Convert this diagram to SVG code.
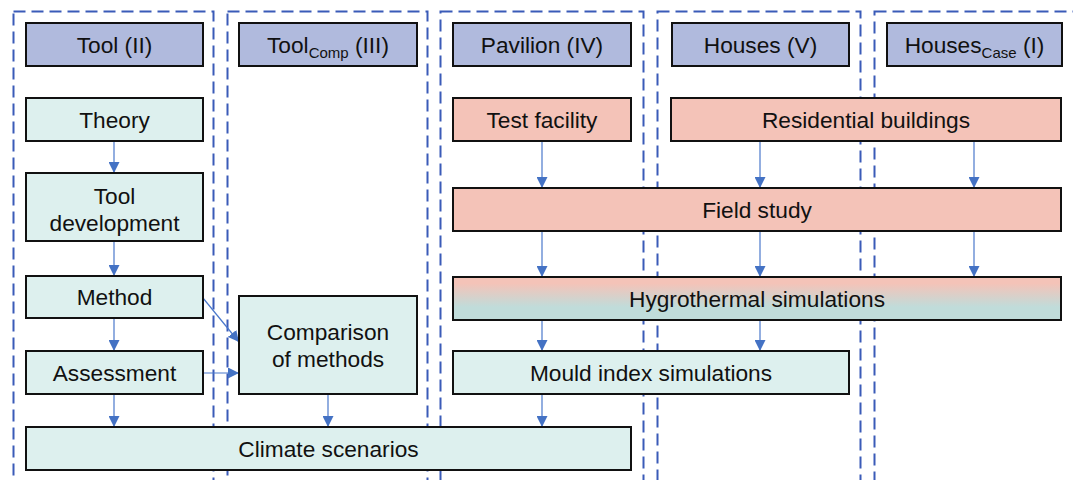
<svg xmlns="http://www.w3.org/2000/svg" width="1073" height="480" viewBox="0 0 1073 480">
<style>
.col{fill:none;stroke:#3A5BB8;stroke-width:2;stroke-dasharray:12 6}
.hdr{fill:#B0BADD;stroke:#111;stroke-width:2}
.tl{fill:#DDF0EE;stroke:#111;stroke-width:2}
.pk{fill:#F4C3B8;stroke:#111;stroke-width:2}
.gr{fill:url(#hg);stroke:#111;stroke-width:2}
text{font-family:"Liberation Sans",Arial,sans-serif;font-size:22.7px;fill:#111;text-anchor:middle}
.sub{font-size:15px}
.cn{stroke:#4A78CC;stroke-width:1.2;fill:none;marker-end:url(#ah)}
</style>
<defs>
<marker id="ah" viewBox="0 0 10 10" refX="10" refY="5" markerWidth="11" markerHeight="11" markerUnits="userSpaceOnUse" orient="auto">
<path d="M0,0 L10,5 L0,10 Z" fill="#4472C4"/>
</marker>
<linearGradient id="hg" x1="0" y1="0" x2="0" y2="1">
<stop offset="0.15" stop-color="#F4C3B8"/>
<stop offset="0.7" stop-color="#C0DCDA"/>
</linearGradient>
</defs>
<g id="columns">
<rect class="col" x="13.5" y="11.5" width="200" height="500"/>
<rect class="col" x="227.5" y="11.5" width="200" height="500"/>
<rect class="col" x="440.5" y="11.5" width="203" height="500"/>
<rect class="col" x="657.5" y="11.5" width="203" height="500"/>
<rect class="col" x="874.5" y="11.5" width="240" height="500"/>
</g>
<g id="connectors">
<path class="cn" d="M114,141 V173"/>
<path class="cn" d="M114,241 V276"/>
<path class="cn" d="M114,318 V351"/>
<path class="cn" d="M114,394 V427"/>
<path class="cn" d="M203,298 L239,342"/>
<path class="cn" d="M203,373 H239"/>
<path class="cn" d="M328,394 V427"/>
<path class="cn" d="M542,141 V188"/>
<path class="cn" d="M760,141 V188"/>
<path class="cn" d="M974,141 V188"/>
<path class="cn" d="M542,231 V277"/>
<path class="cn" d="M760,231 V277"/>
<path class="cn" d="M974,231 V277"/>
<path class="cn" d="M542,320 V351"/>
<path class="cn" d="M760,320 V351"/>
<path class="cn" d="M542,394 V427"/>
</g>
<g id="h-tool"><rect class="hdr" x="26" y="23" width="177" height="43"/><text x="114.5" y="53">Tool (II)</text></g>
<g id="h-toolcomp"><rect class="hdr" x="239" y="23" width="178" height="43"/><text x="328" y="53">Tool<tspan class="sub" dy="5">Comp</tspan><tspan dy="-5"> (III)</tspan></text></g>
<g id="h-pavilion"><rect class="hdr" x="453" y="23" width="178" height="43"/><text x="542" y="53">Pavilion (IV)</text></g>
<g id="h-houses"><rect class="hdr" x="672" y="23" width="177" height="43"/><text x="760.5" y="53">Houses (V)</text></g>
<g id="h-housescase"><rect class="hdr" x="887" y="23" width="175" height="43"/><text x="974.5" y="53">Houses<tspan class="sub" dy="5">Case</tspan><tspan dy="-5"> (I)</tspan></text></g>
<g id="theory"><rect class="tl" x="26" y="98" width="177" height="43"/><text x="114.5" y="128">Theory</text></g>
<g id="tooldev"><rect class="tl" x="26" y="173" width="177" height="68"/><text x="114.5" y="204">Tool</text><text x="114.5" y="231">development</text></g>
<g id="method"><rect class="tl" x="26" y="276" width="177" height="42"/><text x="114.5" y="305">Method</text></g>
<g id="assessment"><rect class="tl" x="26" y="351" width="177" height="43"/><text x="114.5" y="381">Assessment</text></g>
<g id="comparison"><rect class="tl" x="239" y="296" width="178" height="98"/><text x="328" y="340">Comparison</text><text x="328" y="367">of methods</text></g>
<g id="climate"><rect class="tl" x="26" y="427" width="605" height="43"/><text x="328.5" y="457">Climate scenarios</text></g>
<g id="testfacility"><rect class="pk" x="453" y="98" width="178" height="43"/><text x="542" y="128">Test facility</text></g>
<g id="residential"><rect class="pk" x="671" y="98" width="390" height="43"/><text x="866" y="128">Residential buildings</text></g>
<g id="fieldstudy"><rect class="pk" x="453" y="188" width="608" height="43"/><text x="757" y="218">Field study</text></g>
<g id="hygrothermal"><rect class="gr" x="453" y="277" width="608" height="43"/><text x="757" y="307">Hygrothermal simulations</text></g>
<g id="mould"><rect class="tl" x="453" y="351" width="396" height="43"/><text x="651" y="381">Mould index simulations</text></g>
</svg>
